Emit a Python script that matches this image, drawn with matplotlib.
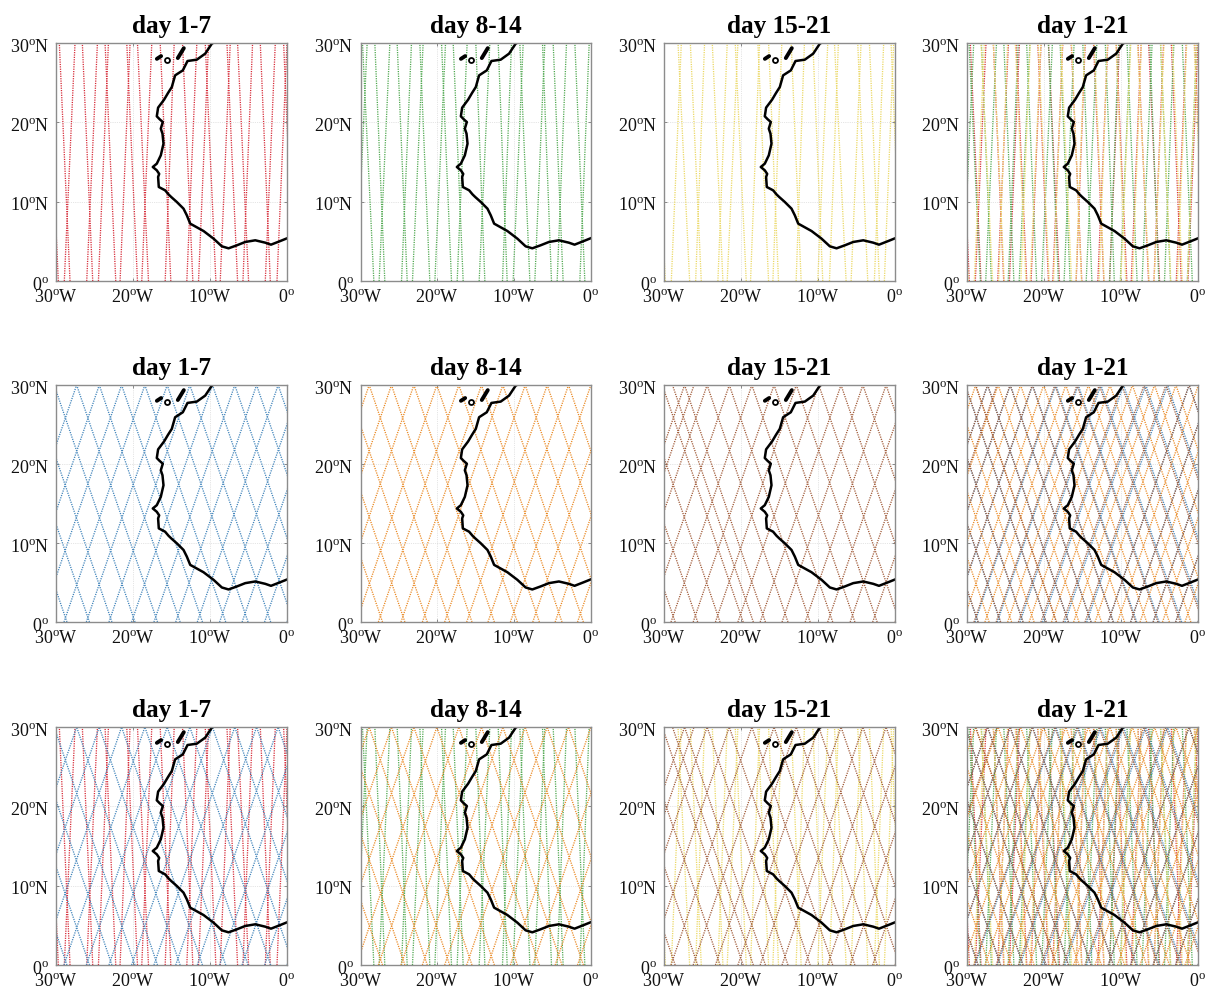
import matplotlib
matplotlib.use('Agg')
import matplotlib.pyplot as plt
from matplotlib.transforms import ScaledTranslation

plt.rcParams['font.family'] = ['Liberation Serif', 'DejaVu Serif']
plt.rcParams['mathtext.fontset'] = 'custom'
plt.rcParams['mathtext.rm'] = 'Liberation Serif'

# ground tracks: longitude where each track meets 0N and 30N
red_lon0 = [-29.70, -28.18, -28.92, -25.23, -26.01, -22.24, -24.49, -19.42, -21.68, -17.99, -18.86, -15.09, -15.82,
            -12.23, -13.01, -9.24, -11.49, -6.42, -8.67, -4.99, -5.72, -2.17, -2.82, 0.87, -1.30]
red_lon30 = [-31.08, -29.57, -27.53, -26.58, -24.62, -23.63, -23.19, -20.81, -20.38, -19.42, -17.56, -16.47, -14.65,
             -13.57, -11.71, -10.62, -10.19, -7.80, -7.37, -6.42, -4.47, -3.47, -1.52, -0.44, 0.00]

green_lon0 = [-28.26, -26.83, -23.91, -20.96, -18.13, -16.61, -13.78, -10.87, -7.91, -5.09, -3.57, -0.74,
              -30.52, -27.57, -24.65, -23.22, -20.30, -17.39, -14.52, -11.48, -10.09, -7.26, -4.35, -1.39]
green_lon30 = [-29.74, -28.13, -25.22, -22.26, -19.43, -17.91, -14.96, -12.04, -9.22, -6.26, -4.87, -2.04,
               -29.13, -26.17, -23.35, -21.83, -18.91, -16.09, -13.13, -10.30, -8.78, -5.96, -3.13, -0.17]

yellow_lon0 = [-29.83, -26.67, -25.16, -22.35, -19.32, -16.42, -15.13, -12.19, -9.38, -6.35, -3.54, -2.03, 0.78,
               -29.05, -25.89, -23.00, -21.79, -18.76, -15.86, -12.84, -10.03, -8.51, -5.70, -2.68, -1.38]
yellow_lon30 = [-31.30, -28.18, -26.58, -23.73, -20.75, -17.81, -16.42, -13.48, -10.67, -7.86, -4.84, -3.32, -0.51,
                -27.75, -24.73, -21.79, -20.40, -17.59, -14.70, -11.76, -8.73, -7.35, -4.41, -1.47, -0.17]

blue_lon0 = [-28.58, -25.66, -22.74, -19.74, -16.82, -13.88, -10.98, -7.96, -5.06, -2.12, 0.82, 3.72, 6.55, 9.35,
             -40.74, -37.82, -34.88, -31.98, -28.96, -26.06, -23.12, -20.18, -17.28, -14.45, -11.65, -8.75, -5.83, -2.91, 0.01]
blue_lon30 = [-39.08, -36.16, -33.24, -30.24, -27.32, -24.38, -21.48, -18.46, -15.56, -12.62, -9.68, -6.78, -3.95, -1.15,
              -30.24, -27.32, -24.38, -21.48, -18.46, -15.56, -12.62, -9.68, -6.78, -3.95, -1.15, 1.75, 4.67, 7.59, 10.51]

orange_lon0 = [-30.05, -27.13, -24.21, -21.29, -18.37, -15.46, -12.54, -9.54, -6.67, -3.72, -0.93, 1.98, 4.85, 7.63,
               -39.37, -36.46, -33.54, -30.54, -27.67, -24.72, -21.93, -19.02, -16.15, -13.37, -10.45, -7.53, -4.61, -1.69, 1.20]
orange_lon30 = [-40.55, -37.63, -34.71, -31.79, -28.87, -25.96, -23.04, -20.04, -17.17, -14.22, -11.43, -8.52, -5.65, -2.87,
                -28.87, -25.96, -23.04, -20.04, -17.17, -14.22, -11.43, -8.52, -5.65, -2.87, 0.05, 2.97, 5.89, 8.81, 11.70]

brown_lon0 = [-28.55, -25.63, -22.72, -19.72, -18.40, -16.83, -13.90, -11.02, -8.09, -5.21, -2.32, 0.60, 3.49, 6.33, 9.34,
              -40.72, -37.83, -36.60, -34.90, -32.02, -29.09, -26.21, -23.32, -20.40, -17.51, -14.67, -11.66, -8.74, -5.82, -2.90, 0.02]
brown_lon30 = [-39.05, -36.13, -33.22, -30.22, -28.90, -27.33, -24.40, -21.52, -18.59, -15.71, -12.82, -9.90, -7.01, -4.17, -1.16,
               -30.22, -27.33, -26.10, -24.40, -21.52, -18.59, -15.71, -12.82, -9.90, -7.01, -4.17, -1.16, 1.76, 4.68, 7.60, 10.52]

# West African coast
coast_lon = [0.00, -0.87, -2.08, -2.82, -4.12, -5.42, -6.51, -7.59, -8.46, -9.54, -10.84, -12.57, -13.01, -13.44,
             -14.31, -15.05, -15.39, -15.83, -16.65, -16.74, -16.60, -16.91, -17.43, -16.91, -16.39, -16.04, -16.17, -16.39,
             -16.13, -16.55, -16.91, -16.74, -15.96, -15.45, -14.96, -14.53, -13.53, -12.92, -11.71, -10.62, -9.76, -9.60]
coast_lat = [5.38, 5.04, 4.58, 4.83, 5.13, 4.92, 4.50, 4.12, 4.37, 5.34, 6.30, 7.23, 8.28, 9.12,
             9.96, 10.60, 10.92, 11.43, 11.85, 13.11, 13.50, 13.95, 14.37, 14.79, 15.84, 17.31, 18.57, 19.20,
             20.04, 20.40, 20.76, 21.85, 22.86, 23.70, 24.45, 25.92, 26.55, 27.73, 27.90, 28.66, 29.92, 30.00]
# Canary islands
island_lon = [[-16.90, -16.35], [-14.18, -13.40]]
island_lat = [[28.00, 28.35], [28.10, 29.35]]
small_island_lon = [-15.58]
small_island_lat = [27.85]

x_ticks = [-30, -20, -10, 0]
x_labels = ['30$^{\\rm o}$W', '20$^{\\rm o}$W', '10$^{\\rm o}$W', '0$^{\\rm o}$']
y_ticks = [0, 10, 20, 30]
y_labels = ['0$^{\\rm o}$', '10$^{\\rm o}$N', '20$^{\\rm o}$N', '30$^{\\rm o}$N']
titles = ['day 1-7', 'day 8-14', 'day 15-21', 'day 1-21']

red = (red_lon0, red_lon30, '#d62b38')
green = (green_lon0, green_lon30, '#50a850')
yellow = (yellow_lon0, yellow_lon30, '#ebd865')
blue = (blue_lon0, blue_lon30, '#4285bb')
orange = (orange_lon0, orange_lon30, '#ea8a25')
brown = (brown_lon0, brown_lon30, '#a05a38')

panels = [[[red], [green], [yellow], [red, green, yellow]],
          [[blue], [orange], [brown], [blue, orange, brown]],
          [[red, blue], [green, orange], [yellow, brown], [red, green, yellow, blue, orange, brown]]]

W, H = 1208, 991
lefts = [56, 360.5, 664, 967]
rights = [287, 590.5, 895, 1198]
tops = [43, 385, 727]
bottoms = [281, 622, 965]

fig = plt.figure(figsize=(W / 100, H / 100), dpi=100)
for r in range(3):
    for c in range(4):
        ax = fig.add_axes([lefts[c] / W, 1 - bottoms[r] / H, (rights[c] - lefts[c]) / W, (bottoms[r] - tops[r]) / H])
        for lon0, lon30, col in panels[r][c]:
            for a, b in zip(lon0, lon30):
                ax.plot([a, b], [0, 30], color=col, lw=0.95, ls=(0, (0.9, 0.9)))
        ax.plot(coast_lon, coast_lat, color='k', lw=1.8)
        for a, b in zip(island_lon, island_lat):
            ax.plot(a, b, color='k', lw=2.8, solid_capstyle='round')
        ax.plot(small_island_lon, small_island_lat, 'o', mfc='white', mec='k', mew=1.3, ms=3.6)
        ax.set_xlim(-30, 0)
        ax.set_ylim(0, 30)
        ax.set_xticks(x_ticks)
        ax.set_xticklabels(x_labels)
        ax.set_yticks(y_ticks)
        ax.set_yticklabels(y_labels)
        ax.grid(True, color='#cccccc', lw=0.5, ls=':')
        ax.set_axisbelow(True)
        ax.tick_params(direction='in', top=True, right=True, length=2, width=0.6, color='#777777',
                       labelcolor='#111111', labelsize=13)
        ax.tick_params(axis='x', pad=6.5)
        ax.tick_params(axis='y', pad=5)
        for s in ax.spines.values():
            s.set_color('#8c8c8c')
            s.set_linewidth(1.0)
        for lab in ax.get_yticklabels():
            lab.set_transform(lab.get_transform() + ScaledTranslation(0, -0.03, fig.dpi_scale_trans))
        ax.set_title(titles[c], fontsize=18.2, fontweight='bold', pad=7.5)

fig.savefig('out.png', dpi=100)
